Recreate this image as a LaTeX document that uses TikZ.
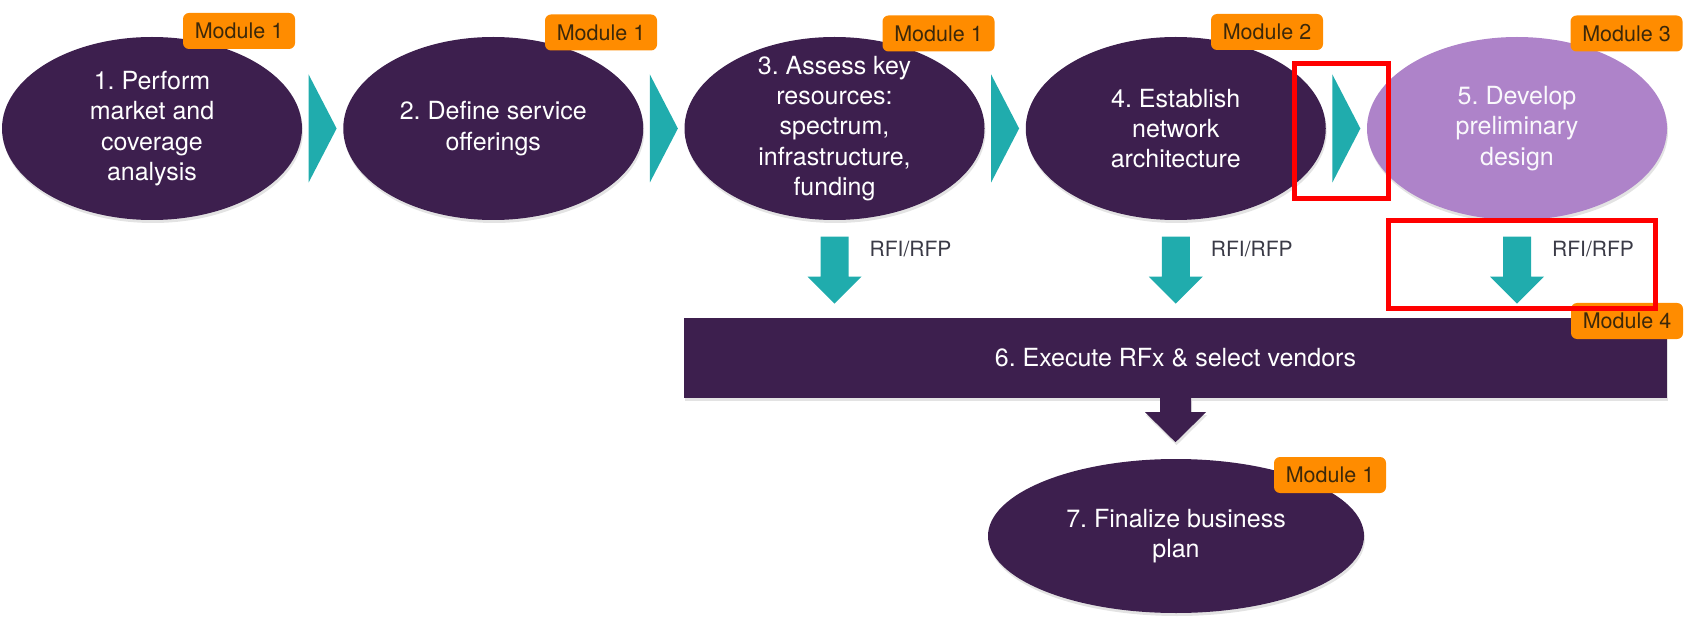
\documentclass[tikz,border=0pt]{standalone}
\usepackage{fontspec}
\setmainfont{TeX Gyre Heros}
\usetikzlibrary{shapes.geometric,shadows,calc}
\definecolor{dpurple}{RGB}{61,31,78}
\definecolor{lpurple}{RGB}{174,131,201}
\definecolor{tealc}{RGB}{32,172,173}
\definecolor{orng}{RGB}{255,140,0}
\definecolor{badgetext}{RGB}{60,40,10}
\definecolor{lbl}{RGB}{58,58,70}
\begin{document}
\frenchspacing
\begin{tikzpicture}[x=1pt,y=-1pt,
  shad/.style={drop shadow={shadow xshift=1pt, shadow yshift=-3pt, opacity=0.22}},
  stepell/.style={ellipse, fill=dpurple, minimum width=300pt, minimum height=183pt, inner sep=0pt, shad},
  steptext/.style={text=white, align=center, inner sep=0pt, font=\fontsize{25}{30.3}\selectfont},
  stepbar/.style={rectangle, fill=dpurple, text=white, minimum width=983pt, minimum height=80pt, inner sep=0pt, font=\fontsize{25}{30}\selectfont, shad},
  badge/.style={rectangle, rounded corners=6pt, fill=orng, text=badgetext, minimum width=112pt, minimum height=36pt, inner sep=0pt, font=\fontsize{21.5}{24}\selectfont},
  chev/.style={fill=tealc},
  rfilabel/.style={anchor=base west, text=lbl, inner sep=0pt, font=\fontsize{21}{24}\selectfont},
  redbox/.style={draw=red, line width=5pt}
]
\useasboundingbox (0,0) rectangle (1689,628);

% top row of steps
\node[stepell] (e1) at (152,128.5) {};
\node[stepell] (e2) at (493.25,128.5) {};
\node[stepell] (e3) at (834.5,128.5) {};
\node[stepell] (e4) at (1175.75,128.5) {};
\node[stepell, fill=lpurple] (e5) at (1517,128.5) {};

\node[steptext] (t1) at (e1.center) {1. Perform\\market and\\coverage\\analysis};
\node[steptext] (t2) at (e2.center) {2. Define service\\offerings};
\node[steptext] (t3) at (e3.center) {3. Assess key\\resources:\\spectrum,\\infrastructure,\\funding};
\node[steptext] (t4) at (e4.center) {4. Establish\\network\\architecture};
\node[steptext, text=white!94!lpurple] (t5) at (e5.center) {5. Develop\\preliminary\\design};

% chevrons between steps
\foreach \a/\b/\n in {e1/e2/c1, e2/e3/c2, e3/e4/c3, e4/e5/c4}{
  \coordinate (\n) at ($(\a.east)!0.5!(\b.west)$);
  \fill[chev] ($(\n)+(-14,-54)$) -- ($(\n)+(14,0)$) -- ($(\n)+(-14,54)$) -- cycle;
}

% bar 6
\node[stepbar] (r6) at (1175.5,358) {6. Execute RFx \& select vendors};

% down arrows with labels
\foreach \e/\n in {e3/a3, e4/a4, e5/a5}{
  \coordinate (\n) at ($(\e.south)+(0,16.5)$);
  \fill[tealc] ($(\n)+(-14,0)$) -- ++(28,0) -- ++(0,40) -- ++(13,0) -- ++(-27,27) -- ++(-27,-27) -- ++(13,0) -- cycle;
  \node[rfilabel] (l\n) at ($(\n)+(35,19.5)$) {RFI/RFP};
}

% step 7
\node[stepell, minimum width=376pt, minimum height=154pt] (e7) at (1176,536) {};
\node[steptext] (t7) at (e7.center) {7. Finalize business\\plan};

% arrow from bar to step 7
\coordinate (a6) at (r6.south);
\fill[dpurple, shad] ($(a6)+(-15.5,0)$) -- ++(31,0) -- ++(0,14) -- ++(15,0) -- ++(-30.5,30) -- ++(-30.5,-30) -- ++(15,0) -- cycle;

% module badges
\node[badge] (b1) at (239,31) {Module 1};
\node[badge] (b2) at (601,32.5) {Module 1};
\node[badge] (b3) at (938.5,33.5) {Module 1};
\node[badge] (b4) at (1267,32) {Module 2};
\node[badge] (b5) at (1626.5,33.5) {Module 3};
\node[badge] (b6) at (1627,321) {Module 4};
\node[badge] (b7) at (1330,475) {Module 1};

% red highlight boxes
\draw[redbox] (1294,64) rectangle (1388,199);
\draw[redbox] (1388,221) rectangle (1655,309);
\end{tikzpicture}
\end{document}
